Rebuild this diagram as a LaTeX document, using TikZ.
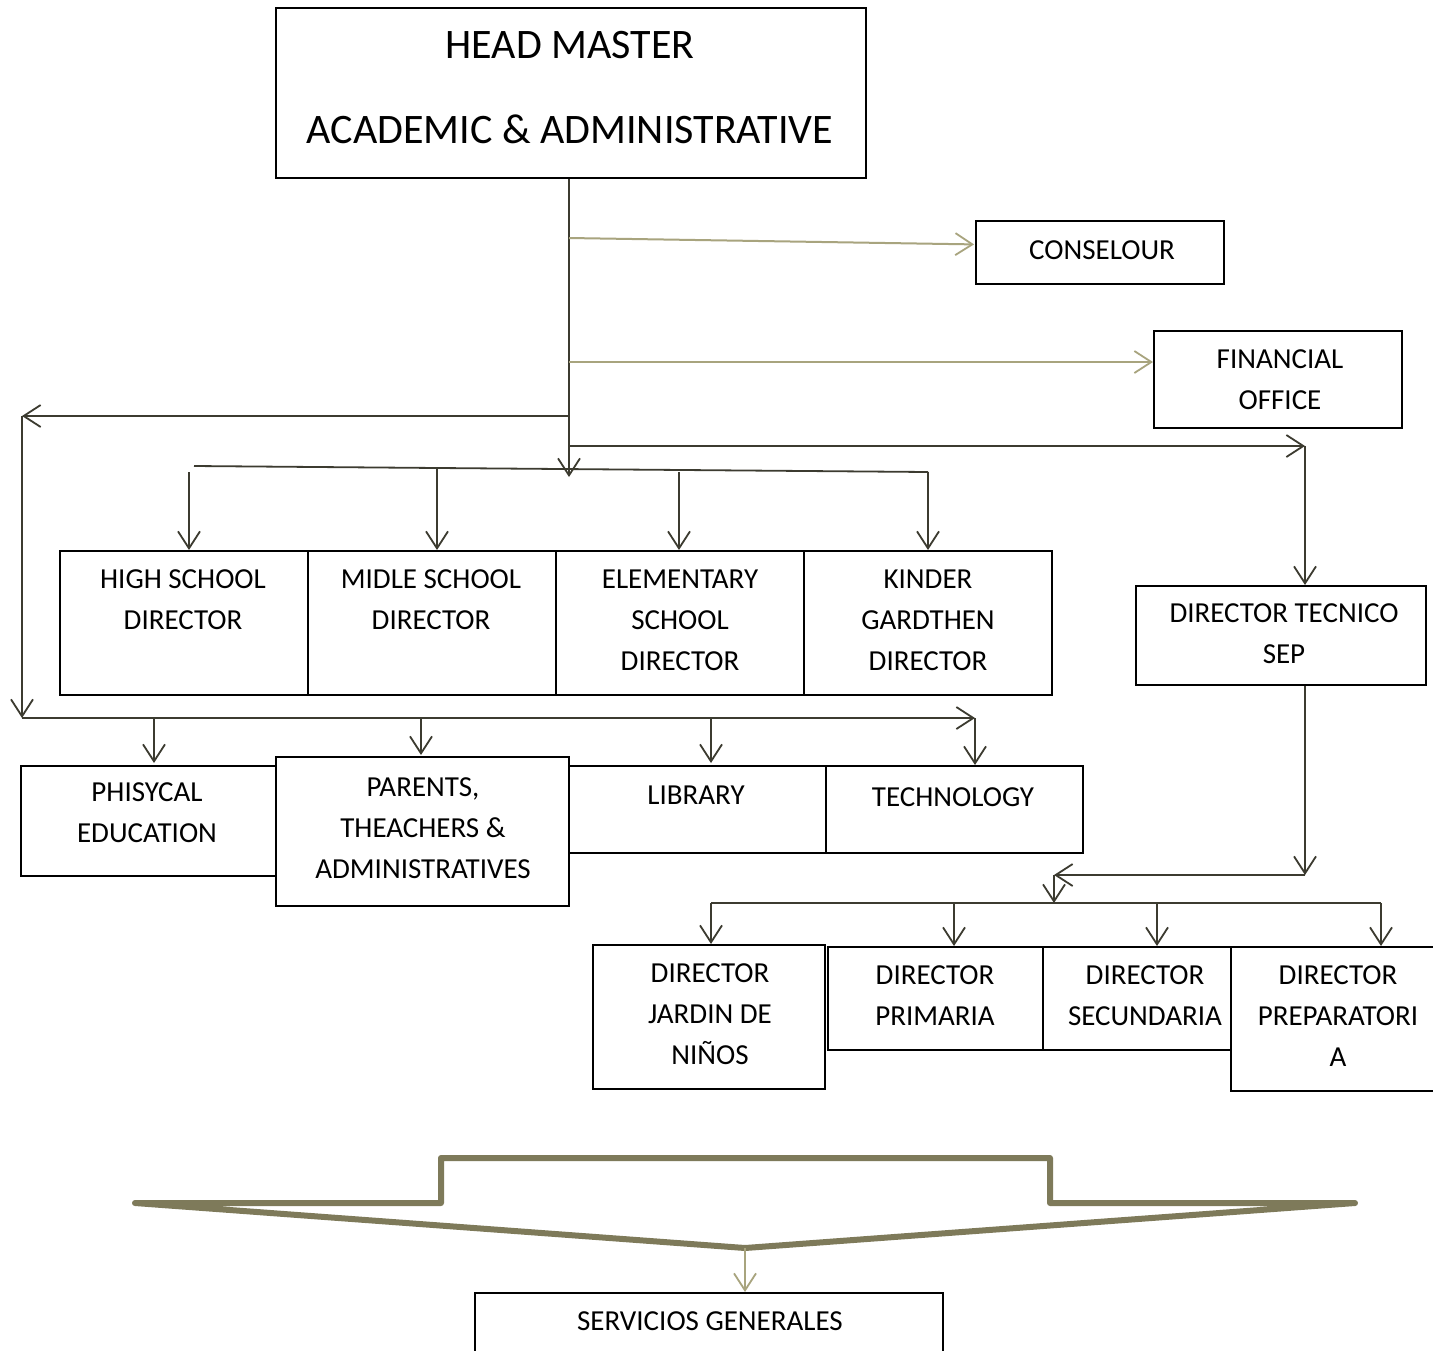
\documentclass[tikz,border=0pt]{standalone}
\usepackage{fontspec}
\setmainfont{Carlito}
\usetikzlibrary{arrows.meta,calc}
\definecolor{dk}{HTML}{3C3B30}
\definecolor{lt}{HTML}{A8A47E}
\definecolor{thk}{HTML}{7E7A5A}
\tikzset{
  box/.style={draw=black,line width=1.8pt,anchor=north west,inner sep=0pt},
  txt/.style={align=center,font=\fontsize{29}{41}\selectfont,inner sep=0pt},
  conn/.style={draw=dk,line width=1.8pt},
  lconn/.style={draw=lt,line width=2pt},
  arr/.style={-{Straight Barb[length=17pt,width=22pt,line width=1.8pt]}},
}
\begin{document}
\begin{tikzpicture}[x=1pt,y=-1pt]
\useasboundingbox[fill=white] (0,0) rectangle (1433,1350);
% ---------- boxes ----------
\node[box,minimum width=590,minimum height=170] (hm) at (275,7) {};
\node[box,minimum width=248,minimum height=63] (cons) at (975,220) {};
\node[box,minimum width=248,minimum height=97] (fin) at (1153,330) {};
\node[box,minimum width=248,minimum height=144] (hs) at (59,550) {};
\node[box,minimum width=248,minimum height=144] (ms) at (307,550) {};
\node[box,minimum width=248,minimum height=144] (el) at (555,550) {};
\node[box,minimum width=248,minimum height=144] (kg) at (803,550) {};
\node[box,minimum width=290,minimum height=99] (dts) at (1135,585) {};
\node[box,minimum width=255,minimum height=110] (phy) at (20,765) {};
\node[box,minimum width=257,minimum height=87] (lib) at (568,765) {};
\node[box,minimum width=257,minimum height=87] (tech) at (825,765) {};
\node[box,minimum width=293,minimum height=149,fill=white] (par) at (275,756) {};
\node[box,minimum width=232,minimum height=144] (jar) at (592,944) {};
\node[box,minimum width=215,minimum height=103] (pri) at (827,946) {};
\node[box,minimum width=188,minimum height=103] (sec) at (1042,946) {};
\node[box,minimum width=215,minimum height=144] (pre) at (1230,946) {};
\node[box,minimum width=468,minimum height=90] (serv) at (474,1292) {};
% ---------- texts ----------
\node[txt,font=\fontsize{42}{85}\selectfont] (thm) at (570,88) {HEAD MASTER\\ACADEMIC \& ADMINISTRATIVE};
\node[txt] (tcons) at (1102,250) {CONSELOUR};
\node[txt] (tfin) at (1280,380) {FINANCIAL\\OFFICE};
\node[txt] (ths) at (183,600) {HIGH SCHOOL\\DIRECTOR};
\node[txt] (tms) at (431,600) {MIDLE SCHOOL\\DIRECTOR};
\node[txt] (tel) at (680,620) {ELEMENTARY\\SCHOOL\\DIRECTOR};
\node[txt] (tkg) at (928,620) {KINDER\\GARDTHEN\\DIRECTOR};
\node[txt] (tdts) at (1284,634) {DIRECTOR TECNICO\\SEP};
\node[txt] (tphy) at (147,813) {PHISYCAL\\EDUCATION};
\node[txt] (tpar) at (423,828) {PARENTS,\\THEACHERS \&\\ADMINISTRATIVES};
\node[txt] (tlib) at (696,795) {LIBRARY};
\node[txt] (ttech) at (953,797) {TECHNOLOGY};
\node[txt] (tjar) at (710,1014) {DIRECTOR\\JARDIN DE\\NIÑOS};
\node[txt] (tpri) at (935,996) {DIRECTOR\\PRIMARIA};
\node[txt] (tsec) at (1145,996) {DIRECTOR\\SECUNDARIA};
\node[txt] (tpre) at (1338,1016) {DIRECTOR\\PREPARATORI\\A};
\node[txt] (tserv) at (710,1321) {SERVICIOS GENERALES};
% ---------- junction coordinates ----------
\coordinate (c1) at (569,238);
\coordinate (c2) at (569,362);
\coordinate (c3) at (569,416);
\coordinate (c4) at (569,446);
\coordinate (tr) at (569,477);
\coordinate (L1) at (22,416);
\coordinate (L2) at (22,718);
\coordinate (L3) at (975,718);
\coordinate (R1) at (1305,446);
\coordinate (u0) at (194,466);
\coordinate (u1) at (928,472);
\coordinate (d1) at (1305,875);
\coordinate (d2) at (1054,875);
\coordinate (d3) at (1054,903);
\coordinate (e0) at (711,903);
\coordinate (e1) at (1381,903);
\coordinate (ct) at (745,1248);
% ---------- connectors ----------
\draw[conn,arr] (hm.south -| c1) -- (tr);
\draw[lconn,arr] (c1) -- ($(cons.west)+(-1,-8)$);
\draw[lconn,arr] (c2) -- (fin.west |- c2);
\draw[conn,arr] (c3) -- (L1);
\draw[conn,arr] (L1) -- (L2);
\draw[conn,arr] (L2) -- (L3);
\draw[conn,arr] (L3) -- (tech.north -| L3);
\draw[conn,arr] (154,718) -- ($(phy.north -| 154,0)+(0,-2)$);
\draw[conn,arr] (421,718) -- ($(par.north -| 421,0)+(0,-1)$);
\draw[conn,arr] (711,718) -- ($(lib.north -| 711,0)+(0,-2)$);
\draw[conn,arr] (c4) -- (R1);
\draw[conn,arr] (R1) -- (dts.north -| R1);
\draw[conn] (u0) -- (u1);
\draw[conn,arr] (189,472) -- (hs.north -| 189,0);
\draw[conn,arr] (437,467) -- (ms.north -| 437,0);
\draw[conn,arr] (679,472) -- (el.north -| 679,0);
\draw[conn,arr] (u1) -- (kg.north -| u1);
\draw[conn,arr] (dts.south -| d1) -- (d1);
\draw[conn,arr] (d1) -- (d2);
\draw[conn,arr] (d2) -- (d3);
\draw[conn] (e0) -- (e1);
\draw[conn,arr] (e0) -- (jar.north -| e0);
\draw[conn,arr] (954,903) -- (pri.north -| 954,0);
\draw[conn,arr] (1157,903) -- (sec.north -| 1157,0);
\draw[conn,arr] (e1) -- (pre.north -| e1);
% ---------- bottom bracket ----------
\draw[draw=thk,line width=6pt,line join=round,line cap=round]
  (135,1203) -- (441,1203) -- (441,1158) -- (1050,1158) -- (1050,1203) -- (1355,1203) -- (ct) -- cycle;
\draw[lconn,arr] (ct) -- (serv.north -| ct);
\end{tikzpicture}
\end{document}
